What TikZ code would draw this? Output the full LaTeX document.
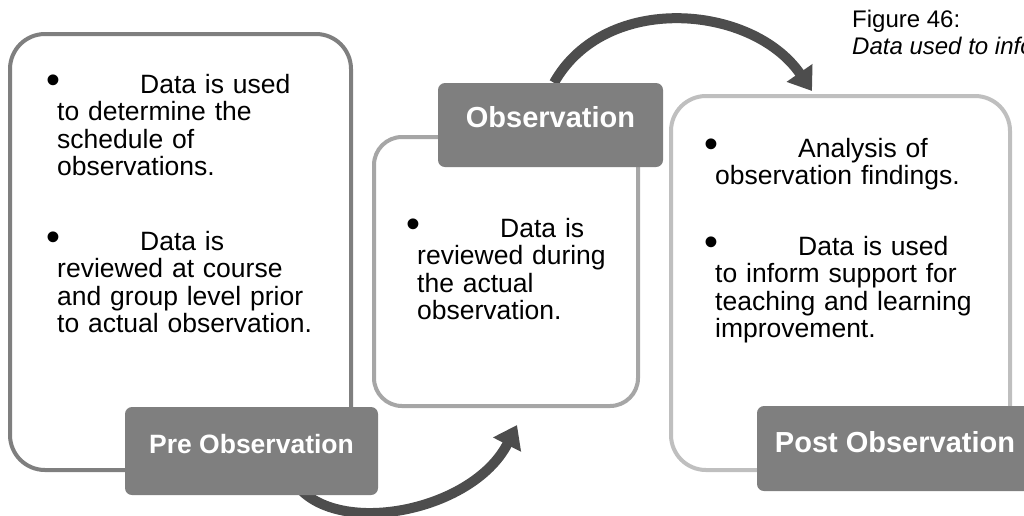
\documentclass[tikz,border=0pt]{standalone}
\usepackage{fontspec}
\usepackage{graphicx}
\setmainfont{Liberation Sans}
\usetikzlibrary{arrows.meta,backgrounds,calc}
\definecolor{lblfill}{HTML}{7F7F7F}
\definecolor{leftline}{HTML}{7F7F7F}
\definecolor{midline}{HTML}{A6A6A6}
\definecolor{rightline}{HTML}{BFBFBF}
\definecolor{arrowc}{HTML}{4D4D4D}
\newcommand\bulletlead{\hspace*{-11pt}\makebox[94pt][l]{\scalebox{1.5}{\textbullet}}}
\begin{document}
\begin{tikzpicture}[x=1pt,y=-1pt,
  bigbox/.style={draw, line width=4pt, fill=white, inner sep=0pt},
  lbl/.style={fill=lblfill, rounded corners=7pt, inner sep=0pt},
  lbltext/.style={text=white, font=\bfseries\fontsize{#1}{#1}\selectfont, anchor=base, inner sep=0pt},
  body/.style={anchor=base west, inner sep=0pt, text width=330pt, align=left, font=\fontsize{26.5}{27.5}\selectfont},
  captext/.style={anchor=base west, inner sep=0pt, font=\fontsize{24}{24}\selectfont},
  flowarrow/.style={draw=arrowc, line width=10pt, -{Triangle[width=30pt,length=22pt]}}
]
\useasboundingbox (0,0) rectangle (1024,515);
\clip (0,0) rectangle (1024,515);

% big boxes
\node[bigbox, draw=leftline, rounded corners=35pt, minimum width=341pt, minimum height=436pt] (lbox) at (180.5,252) {};
\node[bigbox, draw=midline, rounded corners=28pt, minimum width=264pt, minimum height=269pt] (mbox) at (506,271.5) {};
\node[bigbox, draw=rightline, rounded corners=35pt, minimum width=339pt, minimum height=374pt] (rbox) at (840.5,283) {};

% label boxes
\node[lbl, minimum width=253pt, minimum height=88pt] (pre) at (251.5,451) {};
\node[lbl, minimum width=225pt, minimum height=84pt] (obs) at (550.5,125) {};
\node[lbl, minimum width=276pt, minimum height=85pt] (post) at (895,448.5) {};

\node[lbltext=26.5] (pret) at (251.5,453) {Pre Observation};
\node[lbltext=29] (obst) at (550.5,127) {Observation};
\node[lbltext=29] (postt) at (895,452) {Post Observation};

% body texts
\node[body] (l1) at (57,93) {\bulletlead Data is used\\to determine the\\schedule of\\observations.};
\node[body] (l2) at (57,250) {\bulletlead Data is\\reviewed at course\\and group level prior\\to actual observation.};
\node[body] (m1) at (417,237) {\bulletlead Data is\\reviewed during\\the actual\\observation.};
\node[body] (r1) at (715,157) {\bulletlead Analysis of\\observation findings.};
\node[body] (r2) at (715,255) {\bulletlead Data is used\\to inform support for\\teaching and learning\\improvement.};

% caption
\node[captext] (figno) at (852,27) {Figure 46:};
\node[captext, font=\itshape\fontsize{24}{24}\selectfont] (figtitle) at (852,54) {Data used to info};

% arrows
\coordinate (ts) at ($(obs.north)+(3.5,0)$);
\coordinate (tt) at ($(rbox.north west)+(143,-3)$);
\coordinate (bs) at ($(pre.south)+(40.5,-17)$);
\coordinate (bt) at ($(mbox.south west)+(145,17)$);
\begin{pgfonlayer}{background}
\draw[flowarrow] (ts) .. controls (605,-8) and (752.1,4.2) .. (tt);
\draw[flowarrow] (bs) .. controls (327,540) and (471.6,514.1) .. (bt);
\end{pgfonlayer}
\end{tikzpicture}
\end{document}
